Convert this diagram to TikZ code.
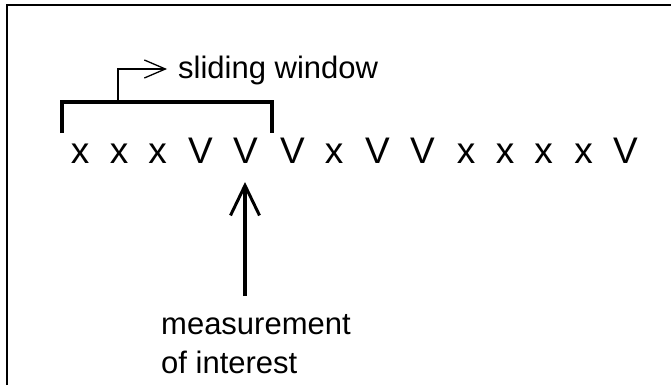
\documentclass[tikz,border=0pt]{standalone}
\usepackage{fontspec}
\setmainfont{Liberation Sans}
\usetikzlibrary{arrows.meta}
\begin{document}
\begin{tikzpicture}[x=1pt,y=-1pt,
  letter/.style={inner sep=0pt,anchor=base,font=\fontsize{37}{40}\selectfont},
  label/.style={inner sep=0pt,anchor=base west,font=\fontsize{31}{39}\selectfont},
  frameline/.style={line width=2.5pt},
  bracketline/.style={line width=4pt},
  thinline/.style={line width=1.3pt},
  bigarrow/.style={line width=4pt,-{Straight Barb[length=30pt,width=29pt,line width=3pt]}},
  smallarrow/.style={thinline,-{Straight Barb[length=21pt,width=18pt,line width=1.3pt]}}]
\useasboundingbox (0,0) rectangle (671,385);
\draw[frameline] (7,385) -- (7,5) -- (671,5);
% row of letters
\foreach \c/\t [count=\i] in {80/x,119/x,157.5/x,200.5/V,245.5/V,292.5/V,334/x,377.5/V,422.5/V,466/x,505/x,543.5/x,583.5/x,625.5/V}
  \node[letter] (l\i) at (\c,163) {\t};
% bracket
\coordinate (bl) at (62,133);
\coordinate (br) at (272,133);
\draw[bracketline] (bl) -- (62,102) -- (272,102) -- (br);
\coordinate (stem) at (118,102);
\node[label] (sw) at (178,79) {sliding window};
\draw[smallarrow] (stem) |- ([xshift=-11pt]sw.base west |- 0,69);
% measurement of interest
\node[label] (mi1) at (161,334) {measurement};
\node[label] (mi2) at (161,373) {of interest};
\coordinate (mtop) at (245,296);
\draw[bigarrow] (mtop) -- (245,182);
\end{tikzpicture}
\end{document}
